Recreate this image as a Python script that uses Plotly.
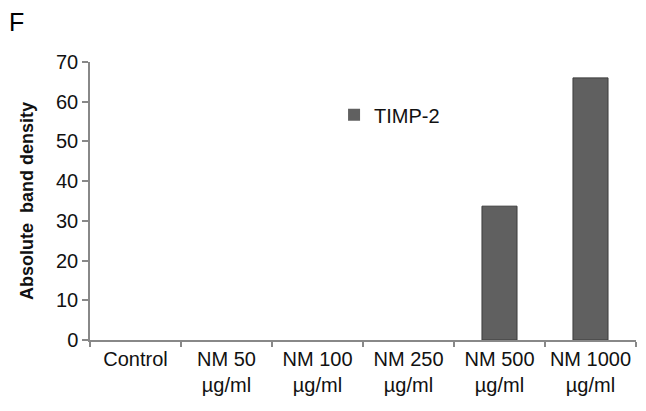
import plotly.graph_objects as go

categories = ["Control", "NM 50<br>µg/ml", "NM 100<br>µg/ml", "NM 250<br>µg/ml", "NM 500<br>µg/ml", "NM 1000<br>µg/ml"]
timp2 = [0, 0, 0, 0, 33.7, 66.0]
y_ticks = [0, 10, 20, 30, 40, 50, 60, 70]

font = "Liberation Sans, Arial, sans-serif"
line_widths = [1 if v > 0 else 0 for v in timp2]

fig = go.Figure()
fig.add_trace(go.Bar(
    x=categories, y=timp2, name="TIMP-2",
    marker=dict(color="#606060", line=dict(color="#3c3c3c", width=line_widths)),
    width=0.385,
))

fig.update_layout(
    width=646, height=411,
    margin=dict(l=82, r=18, t=54, b=79),
    paper_bgcolor="white", plot_bgcolor="white",
    font=dict(family=font, size=20, color="#111111"),
    showlegend=True,
    legend=dict(x=0.447, y=0.81, xanchor="left", yanchor="middle",
                bgcolor="rgba(0,0,0,0)", font=dict(size=20, color="#111111"),
                itemwidth=30),
    xaxis=dict(
        showline=True, linecolor="#888888", linewidth=1.5,
        ticks="outside", ticklen=5, tickcolor="#888888", tickwidth=1.5,
        tickson="boundaries", showgrid=False, tickfont=dict(size=20),
    ),
    yaxis=dict(
        range=[0, 70], tickvals=y_ticks, showline=True, linecolor="#888888", linewidth=1.5,
        ticks="outside", ticklen=6, tickcolor="#888888", tickwidth=1.5,
        showgrid=False, zeroline=False, tickfont=dict(size=20),
        title=dict(text="<b>Absolute  band density</b>", font=dict(size=18), standoff=18),
    ),
)
fig.add_annotation(text="F", xref="paper", yref="paper", x=-0.152, y=1.2,
                   xanchor="left", yanchor="top", showarrow=False,
                   font=dict(size=25, color="#000000"))

fig.write_html("out.html")
